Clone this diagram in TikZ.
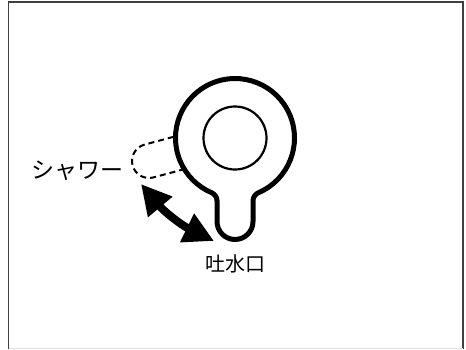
\documentclass[tikz,border=0pt]{standalone}
\usepackage{fontspec}
\newfontfamily\jpfont{Noto Sans CJK JP}
\usetikzlibrary{arrows.meta}
\usetikzlibrary{positioning}

\begin{document}
\begin{tikzpicture}[x=1pt,y=1pt,node distance=0,
	outline/.style={line width=5pt,line join=round},
	showerline/.style={line width=2pt,dash pattern=on 6pt off 4pt},
	swing/.style={line width=8pt,{Triangle[length=30pt,width=30pt]}-{Triangle[length=30pt,width=30pt]}},
	jplabel/.style={font=\jpfont\fontsize{20}{20}\selectfont,inner sep=0pt}]
				% Frame
				\useasboundingbox (0,0) rectangle (466,-349);
				\draw [line width=1.6pt,black!75] (8.5,-349) -- (8.5,-2) -- (463,-2) -- (463,-349);
				\draw [line width=0.8pt,black!12] (8.5,-348) -- (463,-348);

				% Shower position, partly hidden by the body
				\begin{scope}[shift={(149,-161)},rotate=15]
					\draw [showerline] (60,17) -- (0,17) arc (90:270:17) -- (60,-17);
					\coordinate (cap) at (-17,0);
				\end{scope}

				% Body with the spout
				\coordinate (centre) at (235,-138);
				\draw [outline,fill=white] (centre) ++(-66.8:59.5) arc (-66.8:246.8:59.5)
					arc (66.8:0:9) -- (217,-221.5) arc (180:360:18) -- (253,-200.95)
					arc (180:113.2:9) -- cycle;
				\draw [line width=2.2pt] (centre) circle (31.5);
				\coordinate (spout) at (235,-242);

				% Turning arrow
				\coordinate (from) at (141,-184);
				\coordinate (to) at (214,-241);
				\draw [swing] (from) to [bend right=12] (to);

				% Place labels
				\node [jplabel,font=\jpfont\fontsize{23}{23}\selectfont,left=9pt of cap,yshift=-5pt] (shower) {シャワー};
				\node [jplabel,below=13pt of spout] (spoutname) {吐水口};
\end{tikzpicture}
\end{document}
